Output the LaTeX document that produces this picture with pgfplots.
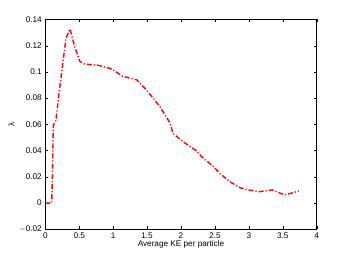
\documentclass[border=0pt]{standalone}
\usepackage{fontspec}
\setmainfont{Liberation Sans}
\usepackage{pgfplots}
\pgfplotsset{compat=1.18}
\begin{document}
\begin{tikzpicture}[x=1pt,y=1pt]
\fill[white] (0,0) rectangle (350,259);
\begin{axis}[
  at={(45.3pt,29.7pt)}, anchor=south west,
  scale only axis, width=271.4pt, height=209.8pt,
  xmin=0, xmax=4, ymin=-0.02, ymax=0.14,
  xtick={0,0.5,...,4}, ytick={-0.02,0,0.02,0.04,0.06,0.08,0.1,0.12,0.14},
  xticklabels={0,0.5,1,1.5,2,2.5,3,3.5,4},
  yticklabels={$-$0.02,0,0.02,0.04,0.06,0.08,0.1,0.12,0.14},
  tick align=inside, tick pos=both, major tick length=3pt,
  tick style={black, line width=0.4pt},
  axis line style={line width=0.5pt},
  ticklabel style={font=\fontsize{8.2}{9.5}\selectfont},
  label style={font=\fontsize{8.2}{9.5}\selectfont},
  xlabel={Average KE per particle},
  ylabel={λ},
  xlabel style={yshift=5pt},
  ylabel style={yshift=-2pt},
]
\addplot[red, line width=1.4pt, dash pattern=on 5pt off 2pt on 1.2pt off 2pt] coordinates {
(0,0) (0.094,0) (0.105,0.02) (0.118,0.0596) (0.153,0.062) (0.217,0.09) (0.305,0.1257) (0.364,0.1328)
(0.44,0.118) (0.51,0.108) (0.585,0.1059) (0.76,0.1053) (0.98,0.1023) (1.13,0.0969) (1.35,0.0939)
(1.49,0.0863) (1.69,0.0735) (1.84,0.0609) (1.88,0.0532) (2.03,0.0468) (2.21,0.0405)
(2.33,0.0342) (2.48,0.0278) (2.57,0.0227) (2.72,0.0163) (2.87,0.0117) (2.99,0.0100)
(3.16,0.0087) (3.34,0.0100) (3.53,0.0062) (3.74,0.0092)
};
\end{axis}
\end{tikzpicture}
\end{document}
